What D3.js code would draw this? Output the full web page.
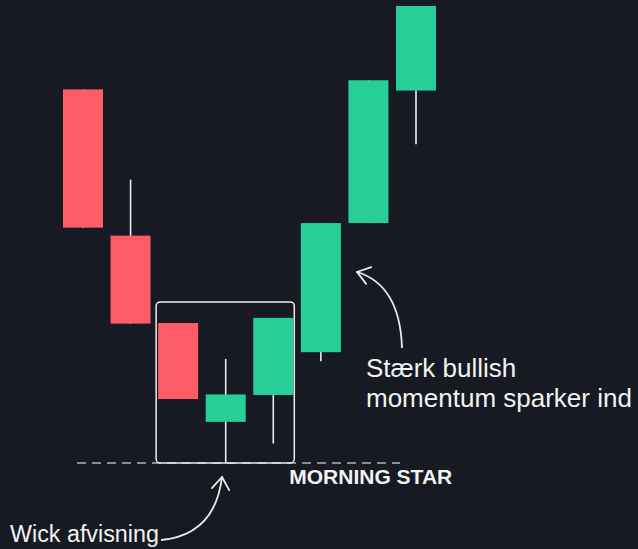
<!DOCTYPE html>
<html>
<head>
<meta charset="utf-8">
<script src="https://cdn.jsdelivr.net/npm/d3@7"></script>
<style>
  html, body { margin: 0; padding: 0; background: #171a22; }
  svg { display: block; }
  text { font-family: "Liberation Sans", Arial, Helvetica, sans-serif; fill: #f2f2f2; }
</style>
</head>
<body>
<div id="chart"></div>
<script>
'use strict';

// candle data (price units)
var opens  = [122.7, 109.9, 102.25, 93.6, 95.95, 99.7, 111.0, 122.6];
var closes = [110.6, 102.2, 95.6, 96.0, 102.7, 111.0, 123.5, 130.0];
var highs  = [122.7, 114.8, 102.25, 99.1, 102.7, 111.0, 123.5, 130.0];
var lows   = [110.6, 102.2, 95.6, 90.0, 91.7, 98.9, 111.0, 117.9];

// which candles make up the pattern
var patternStart = 2;
var patternEnd = 4;
var patternLabel = "MORNING STAR";
var noteBullish = ["Stærk bullish", "momentum sparker ind"];
var noteWick = "Wick afvisning";

var width = 638;
var height = 549;
var bodyWidth = 40;
var red = "#fe5c67";
var green = "#28ce97";
var ink = "#ececec";

var candles = opens.map(function(o, i) {
    return { i: i, open: o, close: closes[i], high: highs[i], low: lows[i] };
});

var x = d3.scaleLinear().domain([0, candles.length - 1]).range([83, 416]);
var y = d3.scaleLinear().domain([90, 130]).range([463, 6]);

var svg = d3.select('#chart')
    .append('svg')
    .attr('width', width)
    .attr('height', height);

svg.append('rect')
    .attr('width', width)
    .attr('height', height)
    .attr('fill', '#171a22');

// support line under the pattern
var supportLevel = d3.min(lows);
svg.append('line')
    .attr('x1', x(0) - 6)
    .attr('x2', x(candles.length - 1) - 16)
    .attr('y1', y(supportLevel))
    .attr('y2', y(supportLevel))
    .attr('stroke', '#8a8d95')
    .attr('stroke-width', 2.2)
    .attr('stroke-dasharray', '9,6');

// wicks
svg.selectAll('line.wick')
    .data(candles)
    .enter()
    .append('line')
    .attr('class', 'wick')
    .attr('x1', function(d) { return x(d.i); })
    .attr('x2', function(d) { return x(d.i); })
    .attr('y1', function(d) { return y(d.high); })
    .attr('y2', function(d) { return y(d.low); })
    .attr('stroke', ink)
    .attr('stroke-width', 1.6);

// bodies
svg.selectAll('rect.body')
    .data(candles)
    .enter()
    .append('rect')
    .attr('class', 'body')
    .attr('x', function(d) { return x(d.i) - bodyWidth / 2; })
    .attr('width', bodyWidth)
    .attr('y', function(d) { return y(Math.max(d.open, d.close)); })
    .attr('height', function(d) { return Math.abs(y(d.open) - y(d.close)); })
    .attr('fill', function(d) { return d.close >= d.open ? green : red; });

// box around the pattern
var pat = candles.slice(patternStart, patternEnd + 1);
var boxTop = y(d3.max(pat, function(d) { return d.high; })) - 16;
var boxBottom = y(d3.min(pat, function(d) { return d.low; }));
var boxLeft = x(patternStart) - 22;
var boxRight = x(patternEnd) + 21;
svg.append('rect')
    .attr('x', boxLeft)
    .attr('y', boxTop)
    .attr('width', boxRight - boxLeft)
    .attr('height', boxBottom - boxTop)
    .attr('rx', 4)
    .attr('fill', 'none')
    .attr('stroke', ink)
    .attr('stroke-width', 1.5);

svg.append('text')
    .attr('x', boxRight - 5)
    .attr('y', boxBottom + 21)
    .attr('font-size', 21)
    .attr('font-weight', 'bold')
    .text(patternLabel);

// annotation arrows
function arrow(path, tip, from) {
    svg.append('path')
        .attr('d', path)
        .attr('fill', 'none')
        .attr('stroke', ink)
        .attr('stroke-width', 1.8);
    var ang = Math.atan2(tip[1] - from[1], tip[0] - from[0]);
    var len = 15, spread = 0.62;
    [-spread, spread].forEach(function(s) {
        svg.append('line')
            .attr('x1', tip[0])
            .attr('y1', tip[1])
            .attr('x2', tip[0] - len * Math.cos(ang + s))
            .attr('y2', tip[1] - len * Math.sin(ang + s))
            .attr('stroke', ink)
            .attr('stroke-width', 1.8)
            .attr('stroke-linecap', 'round');
    });
}

arrow('M402,348 Q400,285 357,272', [357, 272], [400, 285]);
arrow('M161,540 Q215,535 222,477', [222, 477], [215, 535]);

svg.append('text')
    .attr('x', 366)
    .attr('y', 377)
    .attr('font-size', 26)
    .selectAll('tspan')
    .data(noteBullish)
    .enter()
    .append('tspan')
    .attr('x', 366)
    .attr('dy', function(d, i) { return i === 0 ? 0 : 30; })
    .text(function(d) { return d; });

svg.append('text')
    .attr('x', 10)
    .attr('y', 542)
    .attr('font-size', 23.3)
    .text(noteWick);
</script>
</body>
</html>
